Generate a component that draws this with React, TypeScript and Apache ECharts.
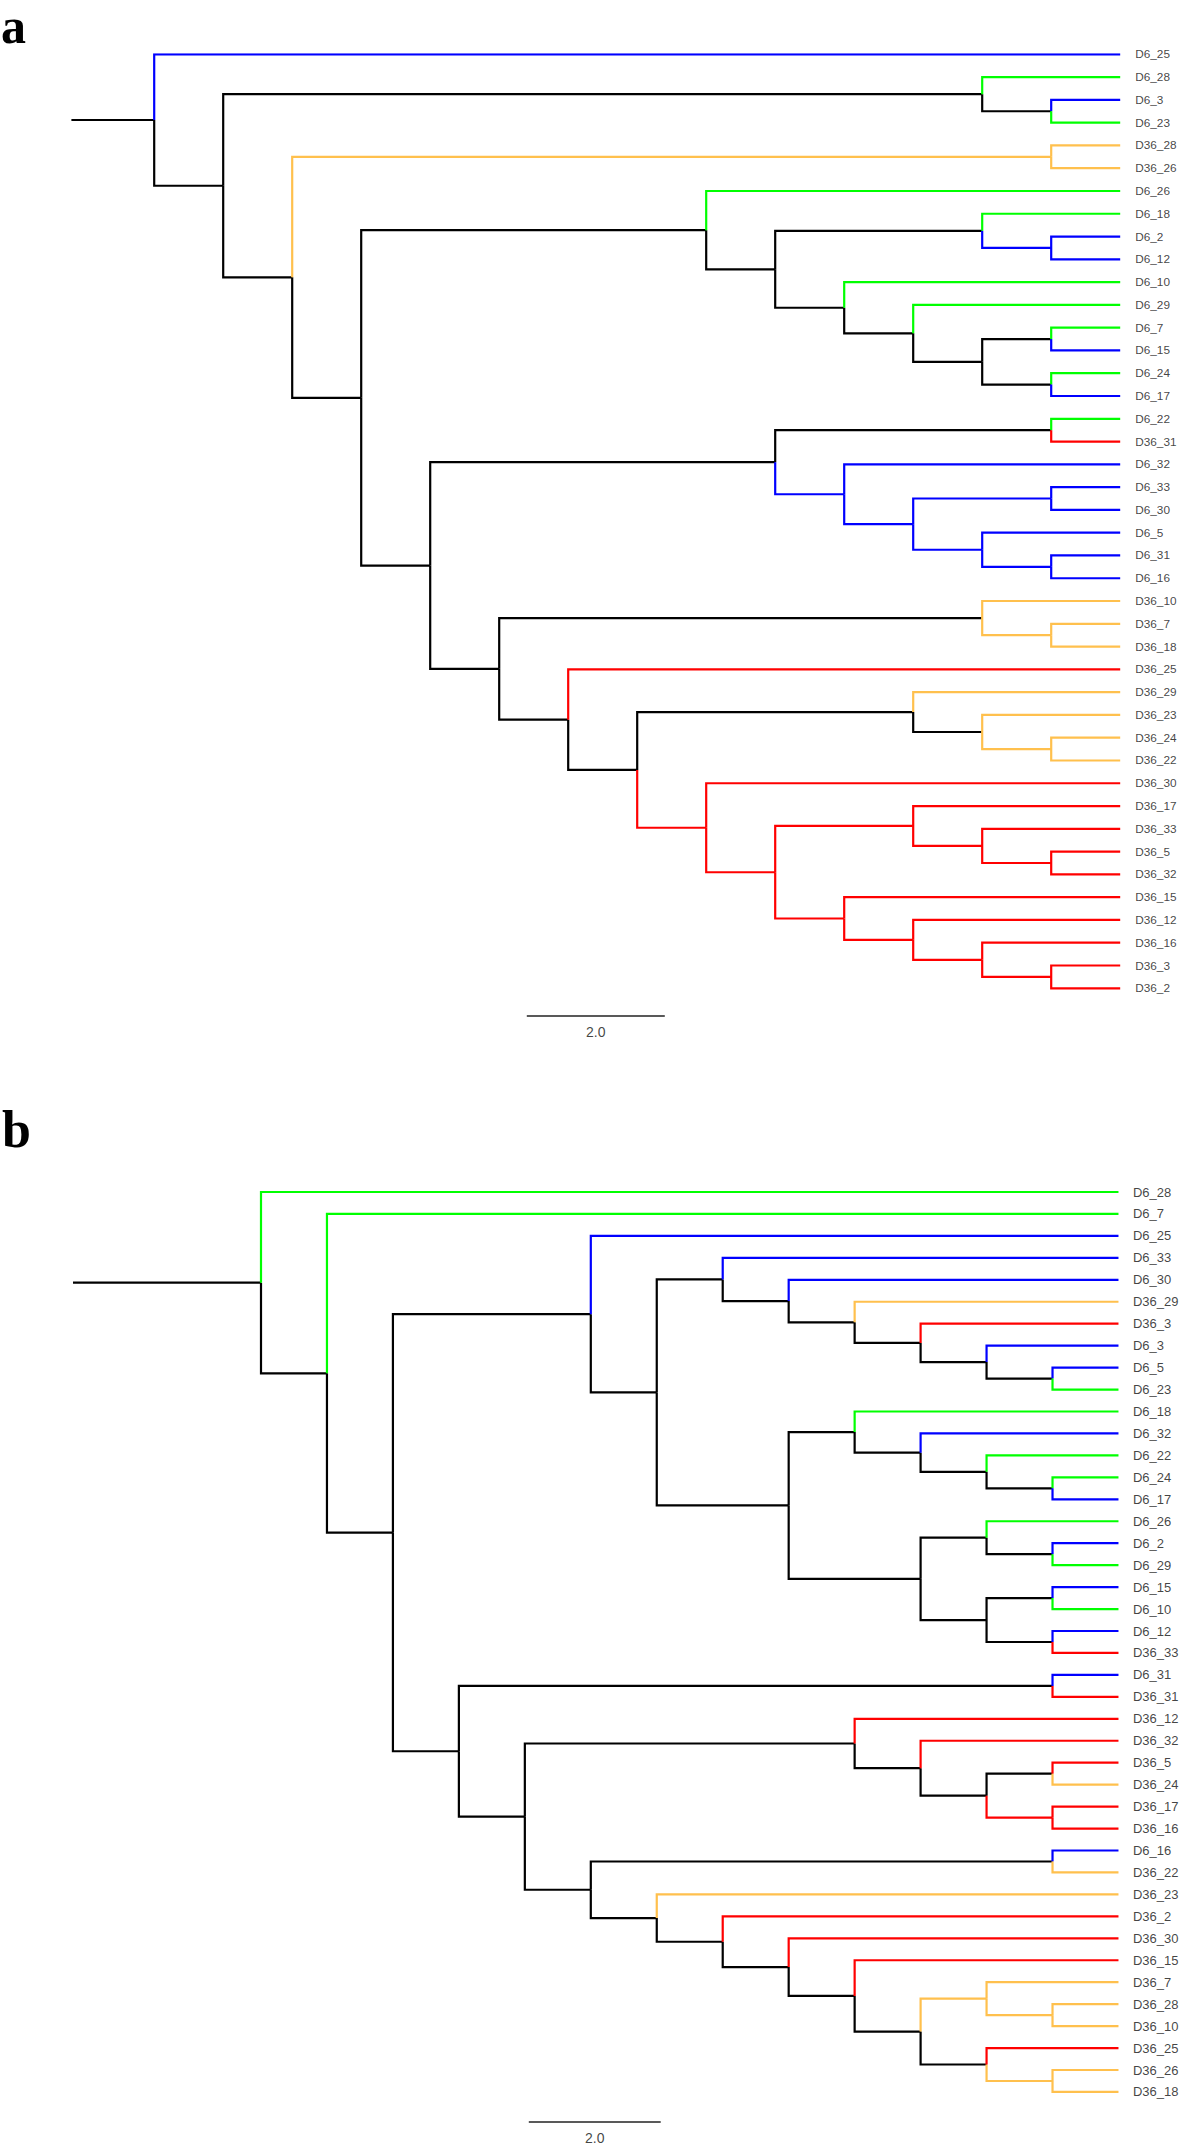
import React, { useEffect, useRef } from "react";
import * as echarts from "echarts";

const PALETTE: Record<string, string> = {
  k: "#000000",
  b: "#0000FF",
  g: "#00FF00",
  r: "#FF0000",
  o: "#FFC04D",
};

// ---------------- Panel a ----------------
const A_LEAF_NAMES = [
  "D6_25", "D6_28", "D6_3", "D6_23", "D36_28", "D36_26", "D6_26", "D6_18", "D6_2", "D6_12",
  "D6_10", "D6_29", "D6_7", "D6_15", "D6_24", "D6_17", "D6_22", "D36_31", "D6_32", "D6_33",
  "D6_30", "D6_5", "D6_31", "D6_16", "D36_10", "D36_7", "D36_18", "D36_25", "D36_29", "D36_23",
  "D36_24", "D36_22", "D36_30", "D36_17", "D36_33", "D36_5", "D36_32", "D36_15", "D36_12", "D36_16",
  "D36_3", "D36_2",
];
const A_LEAF_PARENTS = [
  "R", "N2", "N2a", "N2a", "N4", "N4", "N6", "N6b", "N6c", "N6c",
  "N6d", "N6e", "N6g", "N6g", "N6h", "N6h", "N8a", "N8a", "N8b", "N8d",
  "N8d", "N8e", "N8f", "N8f", "N10", "N10a", "N10a", "N11", "N13", "N13a",
  "N13b", "N13b", "N14", "N16", "N16a", "N16b", "N16b", "N17", "N17a", "N17b",
  "N17c", "N17c",
];
const A_LEAF_COLORS = [
  "b", "g", "b", "g", "o", "o", "g", "g", "b", "b",
  "g", "g", "g", "b", "g", "b", "g", "r", "b", "b",
  "b", "b", "b", "b", "o", "o", "o", "r", "o", "o",
  "o", "o", "r", "r", "r", "r", "r", "r", "r", "r",
  "r", "r",
];
const A_NODE_IDS = [
  "R", "N1", "N2", "N2a", "N3", "N4", "N5", "N6", "N6a", "N6b", "N6c", "N6d", "N6e", "N6f", "N6g", "N6h",
  "N7", "N8", "N8a", "N8b", "N8c", "N8d", "N8e", "N8f", "N9", "N10", "N10a", "N11", "N12", "N13", "N13a",
  "N13b", "N14", "N15", "N16", "N16a", "N16b", "N17", "N17a", "N17b", "N17c",
];
const A_NODE_PARENTS = [
  "", "R", "N1", "N2", "N1", "N3", "N3", "N5", "N6", "N6a", "N6b", "N6a", "N6d", "N6e", "N6f", "N6f",
  "N5", "N7", "N8", "N8", "N8b", "N8c", "N8c", "N8e", "N7", "N9", "N10", "N9", "N11", "N12", "N13",
  "N13a", "N12", "N14", "N15", "N16", "N16a", "N15", "N17", "N17a", "N17b",
];
const A_NODE_DEPTHS = [
  0, 1, 12, 13, 2, 13, 3, 8, 9, 12, 13, 10, 11, 12, 13, 13,
  4, 9, 13, 10, 11, 13, 12, 13, 5, 12, 13, 6, 7, 11, 12,
  13, 8, 9, 11, 12, 13, 10, 11, 12, 13,
];
const A_NODE_COLORS = [
  "k", "k", "k", "k", "k", "o", "k", "k", "k", "k", "b", "k", "k", "k", "k", "k",
  "k", "k", "k", "b", "b", "b", "b", "b", "k", "k", "o", "k", "k", "k", "k",
  "o", "r", "r", "r", "r", "r", "r", "r", "r", "r",
];
const A_TIP_DEPTH = 14;
const A_ROOT_STUB = 1.2;
const A_SCALE_BAR = [5.4, 7.4];
const A_SCALE_Y = 42.22;

// ---------------- Panel b ----------------
const B_LEAF_NAMES = [
  "D6_28", "D6_7", "D6_25", "D6_33", "D6_30", "D36_29", "D36_3", "D6_3", "D6_5", "D6_23",
  "D6_18", "D6_32", "D6_22", "D6_24", "D6_17", "D6_26", "D6_2", "D6_29", "D6_15", "D6_10",
  "D6_12", "D36_33", "D6_31", "D36_31", "D36_12", "D36_32", "D36_5", "D36_24", "D36_17", "D36_16",
  "D6_16", "D36_22", "D36_23", "D36_2", "D36_30", "D36_15", "D36_7", "D36_28", "D36_10", "D36_25",
  "D36_26", "D36_18",
];
const B_LEAF_PARENTS = [
  "Rb", "B1", "B3", "B6", "B6a", "B6b", "B6c", "B6d", "B6e", "B6e",
  "B8", "B8a", "B8b", "B8c", "B8c", "B9a", "B9c", "B9c", "B9d", "B9d",
  "B9e", "B9e", "B10", "B10", "B12", "B12a", "B12c", "B12c", "B12d", "B12d",
  "B14", "B14", "B15", "B16", "B17", "B18", "B20", "B20a", "B20a", "B21",
  "B21a", "B21a",
];
const B_LEAF_COLORS = [
  "g", "g", "b", "b", "b", "o", "r", "b", "b", "g",
  "g", "b", "g", "g", "b", "g", "b", "g", "b", "g",
  "b", "r", "b", "r", "r", "r", "r", "o", "r", "r",
  "b", "o", "o", "r", "r", "r", "o", "o", "o", "r",
  "o", "o",
];
const B_NODE_IDS = [
  "Rb", "B1", "B2", "B3", "B4", "B5", "B6", "B6a", "B6b", "B6c", "B6d", "B6e",
  "B7", "B8", "B8a", "B8b", "B8c", "B9", "B9a", "B9c", "B9b", "B9d", "B9e",
  "B10", "B11", "B12", "B12a", "B12b", "B12c", "B12d", "B13", "B14", "B15",
  "B16", "B17", "B18", "B19", "B20", "B20a", "B21", "B21a",
];
const B_NODE_PARENTS = [
  "", "Rb", "B1", "B2", "B2", "B3", "B5", "B6", "B6a", "B6b", "B6c", "B6d",
  "B5", "B7", "B8", "B8a", "B8b", "B7", "B9", "B9a", "B9", "B9b", "B9b",
  "B4", "B4", "B11", "B12", "B12a", "B12b", "B12b", "B11", "B13", "B13",
  "B15", "B16", "B17", "B18", "B19", "B20", "B19", "B21",
];
const B_NODE_DEPTHS = [
  0, 1, 2, 5, 3, 6, 7, 8, 9, 10, 11, 12,
  8, 9, 10, 11, 12, 10, 11, 12, 11, 12, 12,
  12, 4, 9, 10, 11, 12, 12, 5, 12, 6,
  7, 8, 9, 10, 11, 12, 11, 12,
];
const B_NODE_COLORS = [
  "k", "k", "k", "k", "k", "k", "k", "k", "k", "k", "k", "k",
  "k", "k", "k", "k", "k", "k", "k", "k", "k", "k", "k",
  "k", "k", "k", "k", "k", "k", "r", "k", "k", "k",
  "k", "k", "k", "k", "o", "o", "k", "o",
];
const B_TIP_DEPTH = 13;
const B_ROOT_STUB = 2.85;
const B_SCALE_BAR = [4.06, 6.06];
const B_SCALE_Y = 42.37;

const SCALE_LABEL = "2.0";

type Branch = { coords: number[][]; lineStyle: { color: string } };

function buildBranches(
  leafNames: string[],
  leafParents: string[],
  leafColors: string[],
  nodeIds: string[],
  nodeParents: string[],
  nodeDepths: number[],
  nodeColors: string[],
  tipDepth: number,
  rootStub: number
): Branch[] {
  const xs: Record<string, number> = {};
  const ys: Record<string, number> = {};
  const kids: Record<string, string[]> = {};
  const parent: Record<string, string> = {};
  const color: Record<string, string> = {};
  leafNames.forEach((n, i) => {
    xs[n] = tipDepth;
    ys[n] = i;
    parent[n] = leafParents[i];
    color[n] = leafColors[i];
    (kids[leafParents[i]] = kids[leafParents[i]] || []).push(n);
  });
  let root = "";
  nodeIds.forEach((id, i) => {
    xs[id] = nodeDepths[i];
    parent[id] = nodeParents[i];
    color[id] = nodeColors[i];
    if (nodeParents[i]) (kids[nodeParents[i]] = kids[nodeParents[i]] || []).push(id);
    else root = id;
  });
  const getY = (id: string): number => {
    if (id in ys) return ys[id];
    const c = kids[id] || [];
    const v = c.reduce((s, k) => s + getY(k), 0) / c.length;
    ys[id] = v;
    return v;
  };
  getY(root);
  const out: Branch[] = [];
  out.push({
    coords: [
      [xs[root] - rootStub, ys[root]],
      [xs[root], ys[root]],
    ],
    lineStyle: { color: PALETTE.k },
  });
  const all = [...nodeIds.filter((id) => id !== root), ...leafNames];
  all.sort((a, b) => (color[a] === "k" ? 0 : 1) - (color[b] === "k" ? 0 : 1));
  all.forEach((id) => {
    const p = parent[id];
    out.push({
      coords: [
        [xs[p], ys[p]],
        [xs[p], ys[id]],
        [xs[id], ys[id]],
      ],
      lineStyle: { color: PALETTE[color[id]] },
    });
  });
  return out;
}

export default function App() {
  const ref = useRef<HTMLDivElement>(null);
  useEffect(() => {
    document.body.style.margin = "0";
    if (!ref.current) return;
    const chart = echarts.init(ref.current, undefined, { renderer: "svg" });

    const aBranches = buildBranches(
      A_LEAF_NAMES, A_LEAF_PARENTS, A_LEAF_COLORS,
      A_NODE_IDS, A_NODE_PARENTS, A_NODE_DEPTHS, A_NODE_COLORS,
      A_TIP_DEPTH, A_ROOT_STUB
    );
    const bBranches = buildBranches(
      B_LEAF_NAMES, B_LEAF_PARENTS, B_LEAF_COLORS,
      B_NODE_IDS, B_NODE_PARENTS, B_NODE_DEPTHS, B_NODE_COLORS,
      B_TIP_DEPTH, B_ROOT_STUB
    );

    const aUnit = 69.0;
    const aLeafStep = 22.78;
    const bUnit = 65.96;
    const bLeafStep = 21.95;

    const hiddenAxis = { show: false };

    const labelSeries = (names: string[], tip: number, idx: number, size: number, dist: number) => ({
      type: "scatter",
      xAxisIndex: idx,
      yAxisIndex: idx,
      symbolSize: 0,
      silent: true,
      data: names.map((n, i) => [tip, i, n]),
      label: {
        show: true,
        position: "right",
        distance: dist,
        formatter: (p: any) => p.data[2],
        fontFamily: "Liberation Sans",
        fontSize: size,
        color: "#111",
      },
    });

    const scaleSeries = (bar: number[], y: number, idx: number) => [
      {
        type: "lines",
        coordinateSystem: "cartesian2d",
        xAxisIndex: idx,
        yAxisIndex: idx,
        silent: true,
        data: [{ coords: [[bar[0], y], [bar[1], y]] }],
        lineStyle: { color: "#222", width: 1.6, opacity: 1 },
      },
      {
        type: "scatter",
        xAxisIndex: idx,
        yAxisIndex: idx,
        symbolSize: 0,
        silent: true,
        data: [[(bar[0] + bar[1]) / 2, y]],
        label: {
          show: true,
          position: "bottom",
          distance: 9,
          formatter: SCALE_LABEL,
          fontFamily: "Liberation Sans",
          fontSize: 14,
          color: "#111",
        },
      },
    ];

    const aXMin = -A_ROOT_STUB;
    const bXMin = -B_ROOT_STUB;
    const aYMax = 43;
    const bYMax = 43.5;

    chart.setOption({
      animation: false,
      backgroundColor: "#ffffff",
      grid: [
        {
          left: 154.2 + aXMin * aUnit,
          top: 54.3,
          width: (A_TIP_DEPTH - aXMin) * aUnit,
          height: aYMax * aLeafStep,
        },
        {
          left: 261 + bXMin * bUnit,
          top: 1192,
          width: (B_TIP_DEPTH - bXMin) * bUnit,
          height: bYMax * bLeafStep,
        },
      ],
      xAxis: [
        { type: "value", gridIndex: 0, min: aXMin, max: A_TIP_DEPTH, ...hiddenAxis },
        { type: "value", gridIndex: 1, min: bXMin, max: B_TIP_DEPTH, ...hiddenAxis },
      ],
      yAxis: [
        { type: "value", gridIndex: 0, min: 0, max: aYMax, inverse: true, ...hiddenAxis },
        { type: "value", gridIndex: 1, min: 0, max: bYMax, inverse: true, ...hiddenAxis },
      ],
      graphic: [
        {
          type: "text",
          left: 1,
          top: 1,
          silent: true,
          style: { text: "a", font: 'bold 50px "Liberation Serif"', lineHeight: 24, fill: "#000" },
        },
        {
          type: "text",
          left: 2,
          top: 1103,
          silent: true,
          style: { text: "b", font: 'bold 52px "Liberation Serif"', fill: "#000" },
        },
      ],
      series: [
        {
          type: "lines",
          coordinateSystem: "cartesian2d",
          xAxisIndex: 0,
          yAxisIndex: 0,
          polyline: true,
          silent: true,
          data: aBranches,
          lineStyle: { width: 2.2, opacity: 1, join: "miter", cap: "butt" },
        },
        labelSeries(A_LEAF_NAMES, A_TIP_DEPTH, 0, 11.8, 15),
        ...scaleSeries(A_SCALE_BAR, A_SCALE_Y, 0),
        {
          type: "lines",
          coordinateSystem: "cartesian2d",
          xAxisIndex: 1,
          yAxisIndex: 1,
          polyline: true,
          silent: true,
          data: bBranches,
          lineStyle: { width: 2.2, opacity: 1, join: "miter", cap: "butt" },
        },
        labelSeries(B_LEAF_NAMES, B_TIP_DEPTH, 1, 13, 14.5),
        ...scaleSeries(B_SCALE_BAR, B_SCALE_Y, 1),
      ],
    });
    return () => chart.dispose();
  }, []);
  return <div ref={ref} style={{ width: 1181, height: 2148 }} />;
}
